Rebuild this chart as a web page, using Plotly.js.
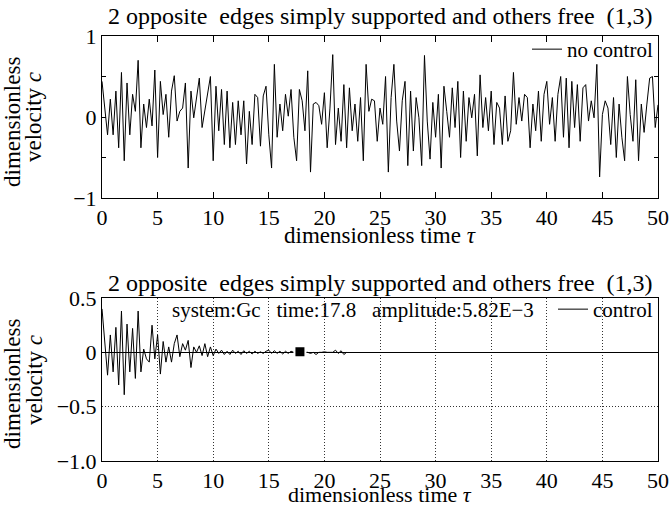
<!DOCTYPE html>
<html>
<head>
<meta charset="utf-8">
<script src="https://cdn.plot.ly/plotly-3.0.1.min.js"></script>
<style>
html,body{margin:0;padding:0;background:#fff}
#chart{width:671px;height:508px}
</style>
</head>
<body>
<div id="chart"></div>
<script>
// ---- data ----
const dtStep = 0.25; // sampling step of the dimensionless time
const noControlVelocity = [
  0.44, 0.10, -0.22, 0.22, -0.22, 0.32, -0.38, 0.55, -0.54, 0.42,
  -0.22, 0.28, 0.07, 0.70, -0.38, 0.16, -0.13, 0.22, -0.11, 0.58,
  -0.50, 0.44, 0.03, 0.28, -0.25, 0.32, 0.51, -0.05, 0.07, 0.11,
  0.42, -0.63, 0.32, -0.01, 0.24, 0.48, -0.13, 0.07, 0.28, 0.50,
  -0.54, 0.38, -0.17, 0.34, -0.34, 0.32, -0.38, 0.18, -0.34, 0.20,
  -0.22, 0.20, -0.58, 0.07, -0.34, 0.28, 0.24, -0.36, 0.26, 0.38,
  -0.22, -0.63, 0.65, -0.25, 0.16, -0.17, 0.28, 0.01, 0.34, -0.25,
  -0.54, 0.34, 0.20, -0.17, 0.57, -0.68, 0.16, 0.18, 0.14, -0.09,
  0.30, -0.38, 0.11, 0.77, -0.34, 0.11, -0.30, 0.40, -0.38, 0.36,
  -0.17, 0.16, -0.30, 0.24, -0.54, 0.65, 0.07, 0.22, 0.20, -0.30,
  0.11, -0.09, 0.50, -0.68, 0.24, 0.65, -0.05, -0.42, 0.20, 0.44,
  -0.60, 0.32, -0.42, 0.24, -0.01, -0.60, 0.76, -0.05, -0.52, 0.18,
  -0.25, 0.28, -0.63, 0.38, 0.07, -0.25, 0.36, -0.13, 0.44, -0.50,
  0.32, -0.30, 0.24, -0.01, 0.28, -0.48, 0.52, -0.13, 0.24, -0.17,
  0.32, -0.34, 0.18, 0.11, -0.34, 0.26, -0.30, -0.17, 0.55, -0.09,
  0.24, -0.05, 0.28, 0.24, -0.38, 0.16, -0.17, 0.32, -0.30, 0.28,
  0.44, -0.09, 0.24, -0.30, 0.28, 0.50, -0.25, 0.48, -0.38, 0.44,
  -0.13, 0.40, -0.30, 0.36, 0.40, -0.05, 0.20, -0.01, 0.65, -0.74,
  0.03, 0.20, 0.11, -0.34, 0.24, -0.50, 0.16, -0.25, -0.54, 0.50,
  0.03, -0.30, 0.46, -0.54, 0.16, -0.19, 0.16, 0.48, 0.50, -0.13,
  0.15
];
const controlVelocity = [
  0.40, 0.07, -0.21, 0.16, -0.18, 0.23, -0.30, 0.38, -0.39, 0.26,
  -0.18, 0.22, -0.24, 0.38, -0.18, 0.03, -0.06, -0.09, 0.25, -0.06,
  0.16, -0.20, 0.10, -0.09, 0.05, -0.09, 0.08, 0.16, -0.04, 0.08,
  0.02, 0.11, -0.14, 0.05, 0.00, 0.06, -0.03, 0.08, -0.04, 0.05,
  -0.03, 0.03, -0.01, 0.02, -0.02, 0.01, -0.02, 0.02, -0.01, 0.01,
  -0.02, 0.015, -0.01, 0.01, -0.015, 0.01, -0.01, 0.005, -0.01, 0.01,
  0.02, -0.01, 0.015, -0.01, 0.01, -0.015, 0.01, -0.01, 0.01, 0.0,
  0.0, 0.0, 0.0, 0.0, 0.0, -0.01, 0.0, -0.02, 0.0, 0.0,
  0.005, 0.0, 0.0, 0.0, 0.02, -0.01, 0.015, -0.02, 0.0
];
const markTime = [17.8];
const markAmp = [0.00582];
const titleText = '2 opposite\u00a0 edges simply supported and others free\u00a0 (1,3)';
const xTitleText = 'dimensionless time <i>\u03c4</i>';
const yTitleLine1 = 'dimensionless';
const yTitleLine2 = 'velocity <i>c</i>';
const infoText = 'system:Gc\u00a0\u00a0 time:17.8\u00a0\u00a0 amplitude:5.82E\u22123';
const xTickVals = [0, 5, 10, 15, 20, 25, 30, 35, 40, 45, 50];
const yTopTickVals = [-1, -0.5, 0, 0.5, 1];
const yTopTickText = ['\u22121', '', '0', '', '1'];
const yBotTickVals = [-1, -0.5, 0, 0.5];
const yBotTickText = ['\u22121.0', '\u22120.5', '0', '0.5'];

const tNo = noControlVelocity.map((_, i) => i * dtStep);
const tCtl = controlVelocity.map((_, i) => i * dtStep);

const FONT = 'Liberation Serif';
const FS = 22;
const f = (s) => ({family: FONT, size: s, color: '#000'});

const traces = [
  {x: tNo, y: noControlVelocity, type: 'scatter', mode: 'lines', name: 'no control',
   line: {color: '#000', width: 1}, xaxis: 'x', yaxis: 'y', legend: 'legend'},
  {x: tCtl, y: controlVelocity, type: 'scatter', mode: 'lines', name: 'control',
   line: {color: '#000', width: 1}, xaxis: 'x2', yaxis: 'y2', legend: 'legend2'},
  {x: markTime, y: markAmp, type: 'scatter', mode: 'markers', showlegend: false,
   marker: {symbol: 'square', size: 11, color: '#000', line: {color: '#fff', width: 2}},
   xaxis: 'x2', yaxis: 'y2'}
];

const axisCommon = {
  showline: true, linecolor: '#000', linewidth: 1, mirror: 'ticks',
  ticks: 'inside', tickcolor: '#000', tickwidth: 1,
  tickfont: f(FS), zeroline: false, showgrid: false, fixedrange: true
};

const PX = (px) => (px - 102) / 556;   // pixel -> paper x
const PY = (py) => (461 - py) / 425;   // pixel -> paper y

const ann = (text, x, y, size, extra) => Object.assign({
  text: text, xref: 'paper', yref: 'paper', x: x, y: y, xanchor: 'center', yanchor: 'middle',
  showarrow: false, font: f(size)}, extra || {});

const layout = {
  width: 671, height: 508,
  margin: {l: 102, r: 13, t: 36, b: 47},
  paper_bgcolor: '#fff', plot_bgcolor: '#fff',
  font: f(FS),
  showlegend: true,
  xaxis: Object.assign({}, axisCommon, {
    domain: [0, 1], anchor: 'y', range: [0, 50], tickvals: xTickVals, ticklen: 6
  }),
  yaxis: Object.assign({}, axisCommon, {
    domain: [0.6188, 1], anchor: 'x', range: [-1, 1],
    tickvals: yTopTickVals, ticktext: yTopTickText, ticklen: 4
  }),
  xaxis2: Object.assign({}, axisCommon, {
    domain: [0, 1], anchor: 'y2', range: [0, 50], tickvals: xTickVals, ticks: '',
    mirror: true, showgrid: true, gridcolor: '#333', gridwidth: 1, griddash: '1px,2px'
  }),
  yaxis2: Object.assign({}, axisCommon, {
    domain: [0, 0.3835], anchor: 'x2', range: [-1, 0.5],
    tickvals: yBotTickVals, ticktext: yBotTickText, ticks: '',
    mirror: true, showgrid: true, gridcolor: '#333', gridwidth: 1, griddash: '1px,2px',
    zeroline: true, zerolinecolor: '#000', zerolinewidth: 1
  }),
  legend: {x: 1, xanchor: 'right', y: PY(29), yanchor: 'top', bgcolor: 'rgba(0,0,0,0)',
           font: f(21), borderwidth: 0, tracegroupgap: 0},
  legend2: {x: 1, xanchor: 'right', y: PY(289), yanchor: 'top', bgcolor: 'rgba(0,0,0,0)',
            font: f(21), borderwidth: 0},
  annotations: [
    ann(titleText, 0.5, PY(16), 24),
    ann(titleText, 0.5, PY(283), 24),
    ann(xTitleText, 0.5, PY(235), 23),
    ann(xTitleText, 0.5, PY(494), 22),
    ann(yTitleLine1, PX(12), PY(122), 23, {textangle: -90}),
    ann(yTitleLine2, PX(34), PY(117), 23, {textangle: -90}),
    ann(yTitleLine1, PX(12), PY(384), 23, {textangle: -90}),
    ann(yTitleLine2, PX(34), PY(380), 23, {textangle: -90}),
    ann(infoText, PX(170), PY(310), 21, {xanchor: 'left'})
  ]
};

Plotly.newPlot('chart', traces, layout, {displayModeBar: false});
</script>
</body>
</html>
